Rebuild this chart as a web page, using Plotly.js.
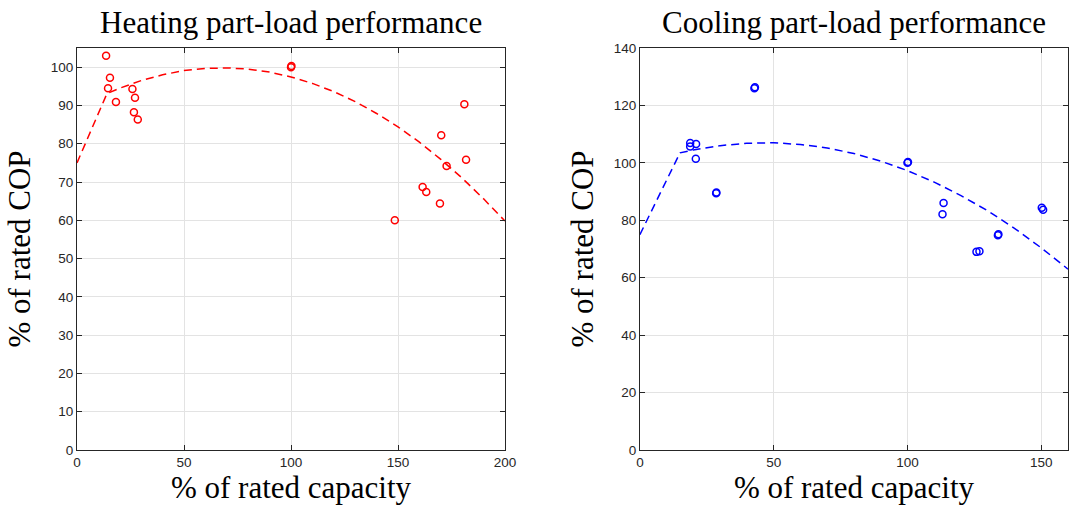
<!DOCTYPE html>
<html><head><meta charset="utf-8">
<script src="https://cdn.plot.ly/plotly-3.0.1.min.js"></script>
<style>html,body{margin:0;padding:0;background:#fff;}#chart{width:1073px;height:508px;}</style>
</head><body><div id="chart"></div>
<script>
// Heating data
const heatX = [13.6, 15.4, 14.5, 18.2, 25.9, 27.1, 26.6, 28.4, 100, 100.2, 181, 170.2, 181.8, 172.7, 161.5, 163.2, 169.6, 148.5];
const heatY = [103, 97.2, 94.5, 90.9, 94.3, 92.0, 88.2, 86.3, 100, 100.3, 90.3, 82.2, 75.8, 74.2, 68.7, 67.4, 64.4, 60.0];
const heatFitX = [0, 5, 10, 14, 20, 30, 40, 50, 60, 70, 80, 90, 100, 110, 120, 130, 140, 150, 160, 170, 180, 190, 200];
const heatFitY = [75, 81.5, 88, 93.1, 94.5, 96.5, 98.0, 99.1, 99.65, 99.8, 99.5, 98.7, 97.45, 95.75, 93.6, 91.0, 87.9, 84.4, 80.4, 75.9, 71.0, 65.6, 59.8];
// Cooling data
const coolX = [42.8, 43.0, 18.8, 21.0, 18.8, 20.9, 28.5, 28.6, 100, 100.2, 113.5, 113.1, 133.8, 134.0, 125.8, 126.9, 150.2, 150.7];
const coolY = [126.0, 126.3, 106.9, 106.6, 105.7, 101.4, 89.4, 89.7, 100, 100.3, 86.0, 82.1, 74.8, 75.1, 69.0, 69.2, 84.4, 83.7];
const coolFitX = [0, 5, 10, 15, 20, 30, 40, 50, 60, 70, 80, 90, 100, 110, 120, 130, 140, 150, 160];
const coolFitY = [75, 84.6, 94.2, 103.5, 104.5, 106.0, 106.8, 107.0, 106.4, 105.2, 103.25, 100.6, 97.3, 93.3, 88.6, 83.3, 77.2, 70.4, 63.0];

const xTicksL = [0, 50, 100, 150, 200];
const yTicksL = [0, 10, 20, 30, 40, 50, 60, 70, 80, 90, 100];
const xTicksR = [0, 50, 100, 150];
const yTicksR = [0, 20, 40, 60, 80, 100, 120, 140];

const titles = ['Heating part-load performance', 'Cooling part-load performance'];
const xLabel = '% of rated capacity';
const yLabel = '% of rated COP';

const serif = '"Liberation Serif", "DejaVu Serif", serif';
const sans = '"Liberation Sans", Arial, sans-serif';
const axCol = '#262626';

const traces = [
  {x: heatX, y: heatY, type: 'scatter', mode: 'markers', xaxis: 'x', yaxis: 'y',
   marker: {symbol: 'circle-open', size: 7, color: '#ff0000', line: {width: 1.5, color: '#ff0000'}}},
  {x: heatFitX, y: heatFitY, type: 'scatter', mode: 'lines', xaxis: 'x', yaxis: 'y',
   line: {color: '#ff0000', width: 1.5, dash: '8px,5px'}},
  {x: coolX, y: coolY, type: 'scatter', mode: 'markers', xaxis: 'x2', yaxis: 'y2',
   marker: {symbol: 'circle-open', size: 7, color: '#0000ff', line: {width: 1.5, color: '#0000ff'}}},
  {x: coolFitX, y: coolFitY, type: 'scatter', mode: 'lines', xaxis: 'x2', yaxis: 'y2',
   line: {color: '#0000ff', width: 1.5, dash: '8px,5px'}}
];

function ax(extra) {
  return Object.assign({
    showline: true, mirror: 'ticks', linecolor: axCol, linewidth: 1,
    ticks: 'inside', ticklen: 5, tickcolor: axCol, tickwidth: 1,
    showgrid: true, gridcolor: '#e3e3e3', gridwidth: 1, zeroline: false,
    tickfont: {family: sans, size: 13.5, color: axCol},
    tickmode: 'array'
  }, extra);
}

const labFont = {family: serif, size: 31, color: '#000'};

const layout = {
  width: 1073, height: 508,
  margin: {l: 77, r: 5, t: 48, b: 58},
  paper_bgcolor: '#ffffff', plot_bgcolor: '#ffffff',
  showlegend: false,
  xaxis: ax({domain: [0, 0.4319], range: [0, 200], tickvals: xTicksL, anchor: 'y',
    title: {text: xLabel, font: labFont, standoff: 6}}),
  yaxis: ax({domain: [0, 1], range: [0, 105], tickvals: yTicksL, anchor: 'x',
    title: {text: yLabel, font: labFont, standoff: 10}}),
  xaxis2: ax({domain: [0.568, 1], range: [0, 160], tickvals: xTicksR, anchor: 'y2',
    title: {text: xLabel, font: labFont, standoff: 6}}),
  yaxis2: ax({domain: [0, 1], range: [0, 140], tickvals: yTicksR, anchor: 'x2',
    title: {text: yLabel, font: labFont, standoff: 10}}),
  annotations: [
    {text: titles[0], xref: 'paper', yref: 'paper', x: 0.2159, y: 1, yshift: 6, xanchor: 'center', yanchor: 'bottom',
     showarrow: false, font: {family: serif, size: 31, color: '#000'}},
    {text: titles[1], xref: 'paper', yref: 'paper', x: 0.784, y: 1, yshift: 6, xanchor: 'center', yanchor: 'bottom',
     showarrow: false, font: {family: serif, size: 31, color: '#000'}}
  ]
};

Plotly.newPlot('chart', traces, layout, {displayModeBar: false, staticPlot: true});
</script></body></html>
